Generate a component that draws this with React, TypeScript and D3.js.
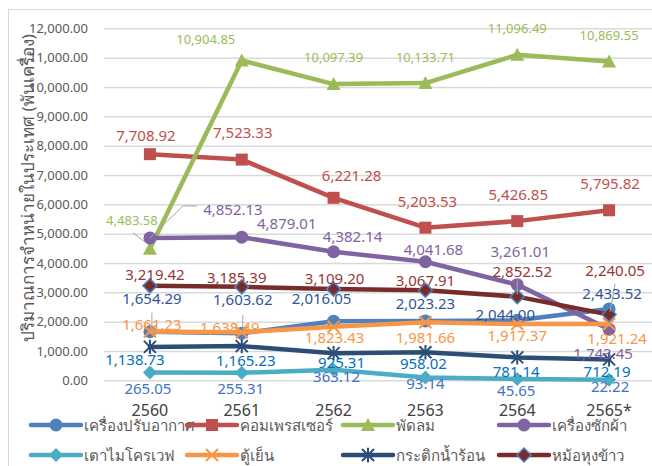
import React, { useEffect, useRef } from 'react';
import * as d3 from 'd3';

// years (x categories) and y ticks
const years = ['2560', '2561', '2562', '2563', '2564', '2565*'];
const yTicks = [0, 1000, 2000, 3000, 4000, 5000, 6000, 7000, 8000, 9000, 10000, 11000, 12000];

// series values (thousand units)
const airCon = [1654.29, 1603.62, 2016.05, 2023.23, 2044.0, 2433.52];
const compressor = [7708.92, 7523.33, 6221.28, 5203.53, 5426.85, 5795.82];
const fan = [4483.58, 10904.85, 10097.39, 10133.71, 11096.49, 10869.55];
const washer = [4852.13, 4879.01, 4382.14, 4041.68, 3261.01, 1743.45];
const microwave = [265.05, 255.31, 363.12, 93.14, 45.65, 22.22];
const fridge = [1661.23, 1638.49, 1823.43, 1981.66, 1917.37, 1921.24];
const kettle = [1138.73, 1165.23, 925.31, 958.02, 781.14, 712.19];
const riceCooker = [3219.42, 3185.39, 3109.2, 3067.91, 2852.52, 2240.05];

const seriesNames = [
  'เครื่องปรับอากาศ', 'คอมเพรสเซอร์', 'พัดลม', 'เครื่องซักผ้า',
  'เตาไมโครเวฟ', 'ตู้เย็น', 'กระติกน้ำร้อน', 'หม้อหุงข้าว',
];

// label offsets from each point: [dx, dy]
const airConLabels = [[2, -34], [1, -34], [-12, -23], [0, -18], [-12, -6], [3, -16]];
const compressorLabels = [[-4, -19], [1, -28], [18, -23], [2, -27], [1, -27], [1, -27]];
const fanLabels = [[-18, -29], [-36, -21], [0, -27], [0, -26], [0, -27], [0, -26]];
const washerLabels = [[83, -29], [45, -14], [19, -16], [8, -13], [3, -34], [-6, 24]];
const microwaveLabels = [[-2, 15], [-1, 15], [3, 6], [0, 5], [-1, 11], [1, 6]];
const fridgeLabels = [[2, -8], [-12, -5], [1, 10], [0, 15], [0, 11], [8, 14]];
const kettleLabels = [[-15, 12], [4, 14], [8, 9], [-2, 11], [-1, 14], [-2, 12]];
const riceLabels = [[5, -12], [-5, -10], [1, -11], [0, -10], [5, -26], [6, -45]];

// leader lines: [series index, point index, path of [dx, dy] from the point]
const leaders = [
  [0, 0, [[2, -19], [2, 0]]],
  [0, 1, [[1, -18], [1, 0]]],
  [2, 0, [[-17, -16], [0, -3]]],
  [3, 0, [[0, 0], [33, -32], [47, -32]]],
  [7, 4, [[0, -19], [0, -2]]],
  [7, 5, [[6, -31], [1, -3]]],
];

const W = 652;
const H = 466;
const fontFamily = '"Noto Sans", "DejaVu Sans", sans-serif';

const drawMarker = (g, type, cx, cy, color, scale = 1) => {
  const s = scale;
  if (type === 'circle') {
    g.append('circle').attr('cx', cx).attr('cy', cy).attr('r', 6.5 * s).attr('fill', color);
  } else if (type === 'square') {
    g.append('rect').attr('x', cx - 6 * s).attr('y', cy - 6 * s)
      .attr('width', 12 * s).attr('height', 12 * s).attr('fill', color);
  } else if (type === 'triangle') {
    g.append('path')
      .attr('d', `M${cx},${cy - 7 * s}L${cx + 7 * s},${cy + 6 * s}L${cx - 7 * s},${cy + 6 * s}Z`)
      .attr('fill', color);
  } else if (type === 'diamond') {
    g.append('path')
      .attr('d', `M${cx},${cy - 7 * s}L${cx + 7 * s},${cy}L${cx},${cy + 7 * s}L${cx - 7 * s},${cy}Z`)
      .attr('fill', color);
  } else if (type === 'diamondOutline') {
    g.append('path')
      .attr('d', `M${cx},${cy - 7 * s}L${cx + 7 * s},${cy}L${cx},${cy + 7 * s}L${cx - 7 * s},${cy}Z`)
      .attr('fill', color).attr('stroke', '#4F81BD').attr('stroke-width', 1.5);
  } else if (type === 'x') {
    const r = 6 * s;
    g.append('path')
      .attr('d', `M${cx - r},${cy - r}L${cx + r},${cy + r}M${cx - r},${cy + r}L${cx + r},${cy - r}`)
      .attr('stroke', color).attr('stroke-width', 2);
  } else if (type === 'star') {
    const r = 6 * s;
    g.append('path')
      .attr('d', `M${cx - r},${cy - r}L${cx + r},${cy + r}M${cx - r},${cy + r}L${cx + r},${cy - r}M${cx},${cy - r * 1.2}L${cx},${cy + r * 1.2}`)
      .attr('stroke', color).attr('stroke-width', 2);
  }
};

const App = () => {
  const ref = useRef(null);

  useEffect(() => {
    const svg = d3.select(ref.current)
      .attr('width', W)
      .attr('height', H)
      .style('font-family', fontFamily);

    svg.selectAll('*').remove();

    const series = [
      { values: airCon, color: '#4F81BD', label: '#2F5597', marker: 'circle', offsets: airConLabels, size: 15 },
      { values: compressor, color: '#C0504D', label: '#C0504D', marker: 'square', offsets: compressorLabels, size: 15 },
      { values: fan, color: '#9BBB59', label: '#9BBB59', marker: 'triangle', offsets: fanLabels, size: 13 },
      { values: washer, color: '#8064A2', label: '#8064A2', marker: 'circle', offsets: washerLabels, size: 15 },
      { values: microwave, color: '#4BACC6', label: '#4472C4', marker: 'diamond', offsets: microwaveLabels, size: 15 },
      { values: fridge, color: '#F79646', label: '#F79646', marker: 'x', offsets: fridgeLabels, size: 15 },
      { values: kettle, color: '#2C4D75', label: '#0070C0', marker: 'star', offsets: kettleLabels, size: 15 },
      { values: riceCooker, color: '#772C2A', label: '#953735', marker: 'diamondOutline', offsets: riceLabels, size: 15 },
    ];

    // frame
    svg.append('rect')
      .attr('x', 8.5).attr('y', 9.5)
      .attr('width', 700).attr('height', 500)
      .attr('fill', 'white').attr('stroke', '#D9D9D9');

    const xScale = d3.scaleBand()
      .domain(years)
      .range([104, 655]);

    const yScale = d3.scaleLinear()
      .domain([0, 12000])
      .range([380.3, 28.3]);

    const cx = (i) => xScale(years[i]) + xScale.bandwidth() / 2;

    // y axis with gridlines
    const yAxis = svg.append('g')
      .attr('transform', 'translate(104,0)')
      .call(d3.axisLeft(yScale)
        .tickValues(yTicks)
        .tickFormat(d3.format(',.2f'))
        .tickSize(-(655 - 104))
        .tickPadding(16));
    yAxis.select('.domain').remove();
    yAxis.selectAll('line').attr('stroke', '#D9D9D9').attr('stroke-width', 1.5);
    yAxis.selectAll('text')
      .attr('fill', '#595959')
      .style('font-size', '13px')
      .style('font-family', fontFamily);

    // x axis labels
    const xAxis = svg.append('g')
      .attr('transform', 'translate(0,380.3)')
      .call(d3.axisBottom(xScale).tickSize(0).tickPadding(24));
    xAxis.select('.domain').remove();
    xAxis.selectAll('text')
      .attr('fill', '#404040')
      .style('font-size', '16px')
      .style('font-family', fontFamily);

    // y title
    svg.append('text')
      .attr('transform', 'translate(27,188) rotate(-90)')
      .attr('text-anchor', 'middle')
      .attr('dominant-baseline', 'central')
      .attr('fill', '#595959')
      .style('font-size', '17px')
      .text('ปริมาณการจำหน่ายในประเทศ (พันเครื่อง)');

    // lines and markers
    const line = d3.line()
      .x((d, i) => cx(i))
      .y(d => yScale(d));

    series.forEach(s => {
      svg.append('path')
        .datum(s.values)
        .attr('d', line)
        .attr('fill', 'none')
        .attr('stroke', s.color)
        .attr('stroke-width', 4.5)
        .attr('stroke-linejoin', 'round')
        .attr('stroke-linecap', 'round');
      const mg = svg.append('g');
      s.values.forEach((v, i) => drawMarker(mg, s.marker, cx(i), yScale(v), s.color));
    });

    // leader lines
    leaders.forEach(([si, pi, pts]) => {
      const px = cx(pi);
      const py = yScale(series[si].values[pi]);
      svg.append('path')
        .attr('d', d3.line()(pts.map(([dx, dy]) => [px + dx, py + dy])))
        .attr('fill', 'none')
        .attr('stroke', '#A6A6A6')
        .attr('stroke-width', 1);
    });

    // data labels
    const fmt = d3.format(',.2f');
    series.forEach(s => {
      s.values.forEach((v, i) => {
        const [dx, dy] = s.offsets[i];
        svg.append('text')
          .attr('x', cx(i) + dx)
          .attr('y', yScale(v) + dy)
          .attr('text-anchor', 'middle')
          .attr('dominant-baseline', 'central')
          .attr('fill', s.label)
          .style('font-size', `${s.size}px`)
          .text(fmt(v));
      });
    });

    // legend
    const legendX = [31, 187, 343, 499];
    const legendY = [425, 455];
    series.forEach((s, k) => {
      const lx = legendX[k % 4];
      const ly = legendY[Math.floor(k / 4)];
      const g = svg.append('g');
      g.append('line')
        .attr('x1', lx).attr('x2', lx + 50)
        .attr('y1', ly).attr('y2', ly)
        .attr('stroke', s.color).attr('stroke-width', 4.5)
        .attr('stroke-linecap', 'round');
      drawMarker(g, s.marker, lx + 25, ly, s.color);
      g.append('text')
        .attr('x', lx + 53)
        .attr('y', ly)
        .attr('dominant-baseline', 'central')
        .attr('fill', '#595959')
        .style('font-size', '15px')
        .text(seriesNames[k]);
    });
  }, []);

  return <svg ref={ref} style={{ position: 'absolute', left: 0, top: 0 }}></svg>;
};

export default App;
